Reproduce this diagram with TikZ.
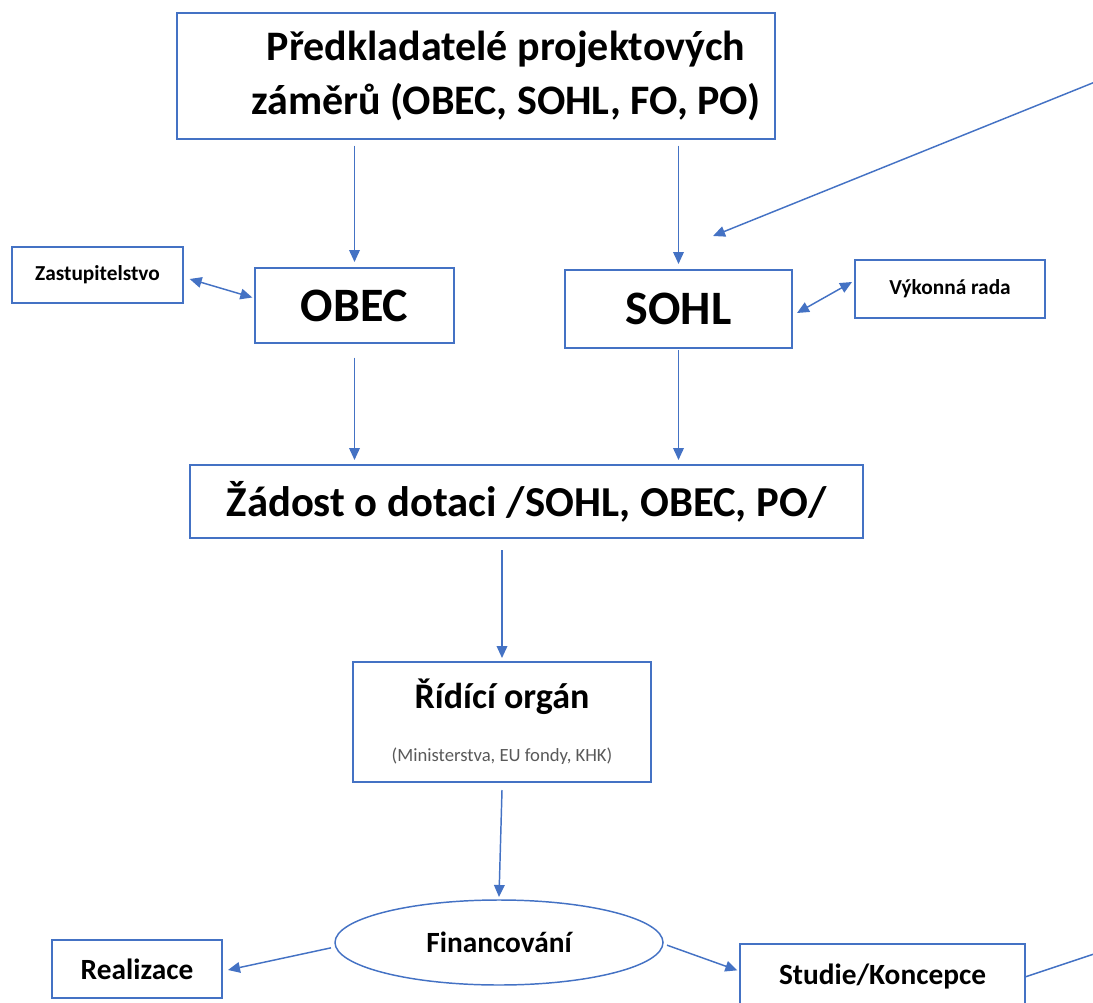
\documentclass[tikz,border=0pt]{standalone}
\usepackage{fontspec}
\setmainfont{Carlito}
\usepackage{tikz}
\usetikzlibrary{arrows.meta,shapes.geometric,positioning}
\definecolor{ofblue}{RGB}{68,114,196}
\definecolor{ofgray}{RGB}{89,89,89}
\tikzstyle{box} = [draw=ofblue, line width=1.1pt, inner sep=0pt, outer sep=0pt, align=center, font=\bfseries]
\tikzstyle{arrow} = [line width=1.1pt, color=ofblue, -{Triangle[length=9pt,width=8pt]}]
\tikzstyle{dblarrow} = [line width=1.1pt, color=ofblue, {Triangle[length=9pt,width=8pt]}-{Triangle[length=9pt,width=8pt]}]

\begin{document}
\begin{tikzpicture}[x=0.75pt, y=-0.75pt]
\useasboundingbox (0,0) rectangle (1093,1003);
\clip (0,0) rectangle (1093,1003);

\node[box, minimum width=448.5pt, minimum height=94.5pt, font=\bfseries\fontsize{31.5}{41}\selectfont] (predkl) at (476,76) {\hspace*{45pt}Předkladatelé projektových\\\hspace*{45pt}záměrů (OBEC, SOHL, FO, PO)};

\node[box, minimum width=149.25pt, minimum height=56.25pt, font=\bfseries\fontsize{36}{40}\selectfont] (obec) at (354.5,305.5) {OBEC};
\node[box, minimum width=170.25pt, minimum height=58.5pt, font=\bfseries\fontsize{36}{40}\selectfont] (sohl) at (678.5,309) {SOHL};

\node[box, minimum width=128.25pt, minimum height=42pt, font=\bfseries\fontsize{16}{19}\selectfont] (zastup) at (97.5,275) {Zastupitelstvo};
\node[box, minimum width=142.5pt, minimum height=43.5pt, font=\bfseries\fontsize{16}{19}\selectfont] (vykon) at (950,289) {Výkonná rada};

\node[box, minimum width=504.75pt, minimum height=54.75pt, font=\bfseries\fontsize{32}{38}\selectfont] (zadost) at (526.5,501.5) {Žádost o dotaci /SOHL, OBEC, PO/};

\node[box, minimum width=223.5pt, minimum height=90pt] (ridici) at (502,722) {{\fontsize{27}{32}\selectfont Řídící orgán}\\[24pt]{\mdseries\fontsize{14}{17}\selectfont\color{ofgray}(Ministerstva, EU fondy, KHK)}};

\node[box, ellipse, minimum width=246pt, minimum height=63.75pt, font=\bfseries\fontsize{22}{26}\selectfont] (financ) at (499,942.5) {Financování};
\node[box, minimum width=127.5pt, minimum height=43.5pt, font=\bfseries\fontsize{22}{26}\selectfont] (realiz) at (137,969) {Realizace};
\node[box, minimum width=213.75pt, minimum height=49.5pt, font=\bfseries\fontsize{22}{26}\selectfont] (studie) at (882.5,977) {Studie/Koncepce};

\coordinate (vstup) at (1100,80);
\coordinate (vystup) at (1100,952);

% svisle vazby
\draw[arrow] ([yshift=-5pt]predkl.south -| obec.north) -- ([yshift=4.5pt]obec.north);
\draw[arrow] ([yshift=-5pt]predkl.south -| sohl.north) -- ([yshift=4.5pt]sohl.north);
\draw[arrow] ([yshift=-11pt]obec.south) -- ([yshift=3.75pt]zadost.north -| obec.south);
\draw[arrow] ([yshift=-1.5pt]sohl.south) -- ([yshift=3.75pt]zadost.north -| sohl.south);
\draw[arrow] ([yshift=-9pt]zadost.south -| ridici.north) -- ([yshift=3pt]ridici.north);
\draw[arrow] ([yshift=-6pt]ridici.south) -- ([yshift=2.25pt]financ.north);

% vedlejsi vazby
\draw[dblarrow] ([shift={(5pt,-3pt)}]zastup.east) -- ([shift={(-2pt,6pt)}]obec.west);
\draw[dblarrow] ([shift={(3.75pt,-3pt)}]sohl.east) -- ([shift={(-2.25pt,5.25pt)}]vykon.west);
\draw[arrow] (vstup) -- ([shift={(25.9pt,25.5pt)}]sohl.north);

\draw[arrow] ([shift={(-3pt,-4pt)}]financ.west) -- ([shift={(4.5pt,-0.75pt)}]realiz.east);
\draw[arrow] ([shift={(3pt,-2pt)}]financ.east) -- ([shift={(-2pt,5pt)}]studie.west);
\draw[line width=1.1pt, ofblue] (studie.east) -- (vystup);
\end{tikzpicture}
\end{document}
